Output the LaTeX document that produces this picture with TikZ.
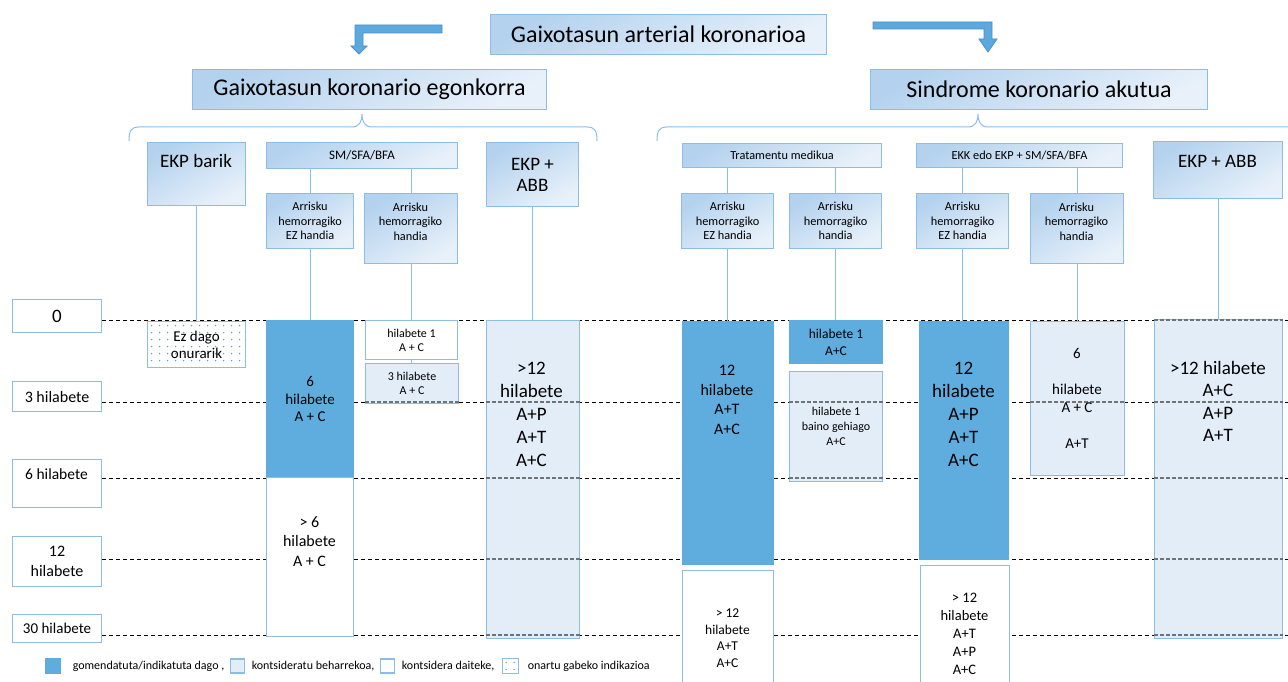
\documentclass[tikz,border=0pt]{standalone}
\usepackage{fontspec}
\setmainfont{Carlito}
\usetikzlibrary{positioning}

\definecolor{DarkBar}{HTML}{5FADDF}
\definecolor{LightBar}{HTML}{E2EDF8}
\definecolor{LineBlue}{HTML}{8CBDE6}
\definecolor{HeadTop}{HTML}{B4D2EE}
\definecolor{HeadBot}{HTML}{E8F1FA}
\definecolor{ArrowFill}{HTML}{5DA8DD}
\definecolor{ArrowEdge}{HTML}{4A8FCB}
\definecolor{DotBlue}{HTML}{6A9BC9}
\definecolor{SeenLine}{HTML}{6E7378}

\newcommand{\fsz}[2]{\fontsize{#1}{#2}\selectfont}

\tikzset{
  sz/.style 2 args={minimum width=#1, minimum height=#2},
  box/.style={anchor=north west, inner sep=1pt, align=center, line width=1.1pt},
  head/.style={box, draw=LineBlue, top color=HeadTop, bottom color=HeadBot, shading angle=30},
  tlabel/.style={box, draw=LineBlue, fill=white},
  darkbar/.style={box, draw=DarkBar, fill=DarkBar},
  whitebar/.style={box, draw=LineBlue, fill=white},
  lightbar/.style={box, draw=LineBlue, fill=LightBar},
  dotbox/.style={box, draw=LineBlue, fill=white, path picture={
      \foreach \i in {0,...,13}
        \foreach \j in {0,...,9}
          \fill[DotBlue] ([xshift={4pt+\i*8pt}, yshift={-4pt-\j*7pt}]path picture bounding box.north west) circle (0.8pt);
    }},
  txt/.style={inner sep=0pt, align=center},
  link/.style={draw=LineBlue, line width=1pt},
  timeline/.style={draw=black, line width=0.8pt, dash pattern=on 4pt off 3pt},
  seen/.style={draw=SeenLine, line width=1.2pt, dash pattern=on 4pt off 2pt},
}

\begin{document}
\begin{tikzpicture}[x=1pt, y=-1pt]

 \useasboundingbox (0,0) rectangle (1288,682);

 %%%%%%%%%% Time lines %%%%%%%%%%
 \coordinate (rgt) at (1288,0);
 \coordinate (d0) at (102,320);
 \coordinate (d3) at (102,402);
 \coordinate (d6) at (102,478);
 \coordinate (d12) at (102,559);
 \coordinate (d30) at (102,635);
 \foreach \nm in {d0,d3,d6,d12,d30}
 {
   \draw[timeline] (\nm) -- (\nm -| rgt);
 }

 %%%%%%%%%% Block arrows %%%%%%%%%%
 \draw[fill=ArrowFill, draw=ArrowEdge, line width=0.8pt] (442,25) -- (355,25) -- (355,46) -- (351,46) -- (359,54) -- (367,46) -- (363,46) -- (363,33) -- (442,33) -- cycle;
 \draw[fill=ArrowFill, draw=ArrowEdge, line width=0.8pt] (873,22) -- (992,22) -- (992,39) -- (997,39) -- (988,52) -- (979,39) -- (984,39) -- (984,29) -- (873,29) -- cycle;

 %%%%%%%%%% Top boxes %%%%%%%%%%
 \node[head, sz={336}{40}, font=\fsz{24}{29}] (root) at (490,14) {Gaixotasun arterial koronarioa};
 \node[head, sz={354}{40}, font=\fsz{24}{29}] (stable) at (192,69) {Gaixotasun koronario egonkorra};
 \node[head, sz={337}{40}, font=\fsz{24}{29}] (acute) at (870,69) {Sindrome koronario akutua};

 %%%%%%%%%% Braces %%%%%%%%%%
 \draw[link] (129,141) .. controls (129,131) and (131,127) .. (139,127) -- (352,127) .. controls (359,127) and (362,122) .. (362,114) .. controls (362,122) and (365,127) .. (372,127) -- (587,127) .. controls (595,127) and (597,131) .. (597,141);
 \draw[link] (657,141) .. controls (657,131) and (659,127) .. (667,127) -- (968,127) .. controls (975,127) and (978,122) .. (978,114) .. controls (978,122) and (981,127) .. (988,127) -- (1288,127);

 %%%%%%%%%% Stable: headers %%%%%%%%%%
 \node[head, sz={98}{63}] (nopci) at (147,142) {};
 \node[txt, font=\fsz{19}{23}] (nopciT) at (196,161) {EKP barik};
 \node[head, sz={191}{26}, font=\fsz{13}{16}] (smL) at (266,142) {SM/SFA/BFA};
 \node[head, sz={87}{55}, font=\fsz{12.3}{14.5}] (lowL) at (266,193) {Arrisku\\hemorragiko\\EZ handia};
 \node[head, sz={93}{70}] (highL) at (364,193) {};
 \node[txt, font=\fsz{12.3}{14.5}] (highLT) at (410.5,221.5) {Arrisku\\hemorragiko\\handia};
 \node[head, sz={92}{64}, font=\fsz{19}{21}] (cabgL) at (486,142) {EKP +\\ABB};

 %%%%%%%%%% Acute: headers %%%%%%%%%%
 \node[head, sz={199}{24}, font=\fsz{12.3}{15}] (medR) at (682,143) {Tratamentu medikua};
 \node[head, sz={92}{55}, font=\fsz{12.3}{14.5}] (lowR1) at (681,193) {Arrisku\\hemorragiko\\EZ handia};
 \node[head, sz={92}{55}, font=\fsz{12.3}{14.5}] (highR1) at (789,193) {Arrisku\\hemorragiko\\handia};
 \node[head, sz={206}{24}, font=\fsz{12.3}{15}] (pciR) at (916,143) {EKK edo EKP + SM/SFA/BFA};
 \node[head, sz={92}{55}, font=\fsz{12.3}{14.5}] (lowR2) at (916,193) {Arrisku\\hemorragiko\\EZ handia};
 \node[head, sz={93}{70}] (highR2) at (1030,193) {};
 \node[txt, font=\fsz{12.3}{14.5}] (highR2T) at (1076.5,221.5) {Arrisku\\hemorragiko\\handia};
 \node[head, sz={129}{57}] (cabgR) at (1153,141) {};
 \node[txt, font=\fsz{19}{23}] (cabgRT) at (1217.5,161) {EKP + ABB};

 %%%%%%%%%% Time labels %%%%%%%%%%
 \node[tlabel, sz={89}{33}, font=\fsz{19}{23}] (t0) at (12,299) {0};
 \node[tlabel, sz={89}{30}, font=\fsz{16}{19}] (t3) at (12,381) {3 hilabete};
 \node[tlabel, sz={89}{48}] (t6) at (12,459) {};
 \node[txt, font=\fsz{15.5}{19}] (t6T) at (56.5,474) {6 hilabete};
 \node[tlabel, sz={89}{50}, font=\fsz{16}{20}] (t12) at (12,536) {12\\hilabete};
 \node[tlabel, sz={89}{28}, font=\fsz{15}{18}] (t30) at (12,614) {30 hilabete};

 %%%%%%%%%% Stable: bars %%%%%%%%%%
 \node[dotbox, sz={98}{46}, font=\fsz{15}{17}] (nobenefit) at (147,321) {Ez dago\\onurarik};
 \node[darkbar, sz={87}{157}, font=\fsz{15}{17.5}] (dapt6) at (266,320) {6\\hilabete\\A + C};
 \node[whitebar, sz={87}{159}] (dapt6w) at (266,477) {};
 \node[whitebar, sz={92}{39}, font=\fsz{12}{14}] (m1L) at (365,320) {hilabete 1\\A + C};
 \node[lightbar, sz={93}{40}, font=\fsz{12}{14}] (m3L) at (365,363) {3 hilabete\\A + C};
 \node[lightbar, sz={93}{318}] (cabgLbar) at (486,320) {};

 %%%%%%%%%% Acute: bars %%%%%%%%%%
 \node[darkbar, sz={91}{243}] (med12) at (682,321) {};
 \node[whitebar, sz={91}{122}] (med12w) at (682,570) {};
 \node[darkbar, sz={93}{43}, font=\fsz{13.5}{17}] (m1R) at (789,320) {hilabete 1\\A+C};
 \node[lightbar, sz={93}{110}, font=\fsz{12}{15}] (m1Rb) at (789,371) {hilabete 1\\baino gehiago\\A+C};
 \node[darkbar, sz={89}{238}] (pci12) at (919,321) {};
 \node[whitebar, sz={89}{127}] (pci12w) at (920,565) {};
 \node[lightbar, sz={94}{154}] (pci6) at (1030,321) {};
 \node[lightbar, sz={128}{319}] (cabgRbar) at (1154,319) {};

 %%%%%%%%%% Time lines seen through the light bars %%%%%%%%%%
 \foreach \bx/\nm in {m3L/d3, cabgLbar/d3, cabgLbar/d6, cabgLbar/d12, cabgLbar/d30, m1Rb/d3, m1Rb/d6, pci6/d3, cabgRbar/d0, cabgRbar/d3, cabgRbar/d6, cabgRbar/d12, cabgRbar/d30}
 {
   \draw[seen] (\nm -| \bx.west) -- (\nm -| \bx.east);
 }

 %%%%%%%%%% Bar texts %%%%%%%%%%
 \node[txt, font=\fsz{16}{19.5}] (dapt6wT) at (309.5,541.5) {> 6\\hilabete\\A + C};
 \node[txt, font=\fsz{19}{23}] (cabgLbarT) at (531.5,414.5) {>12\\hilabete\\A+P\\A+T\\A+C};
 \node[txt, font=\fsz{16}{19.5}] (med12T) at (727,400) {12\\hilabete\\A+T\\A+C};
 \node[txt, font=\fsz{13.5}{16.5}] (med12wT) at (727.5,638) {> 12\\hilabete\\A+T\\A+C};
 \node[txt, font=\fsz{19}{23}] (pci12T) at (963.5,414) {12\\hilabete\\A+P\\A+T\\A+C};
 \node[txt, font=\fsz{14.5}{18}] (pci12wT) at (964.5,633.5) {> 12\\hilabete\\A+T\\A+P\\A+C};
 \node[txt, font=\fsz{15}{18}] (pci6T) at (1077,398) {6\\[18pt]hilabete\\A + C\\[18pt]A+T};
 \node[txt, font=\fsz{19}{22.5}] (cabgRbarT) at (1218,401.5) {>12 hilabete\\A+C\\A+P\\A+T};

 %%%%%%%%%% Connectors %%%%%%%%%%
 \draw[link] (nopci.south) -- (nopci.south |- nobenefit.north);
 \draw[link] (smL.south -| lowL.north) -- (lowL.north);
 \draw[link] (smL.south -| highL.north) -- (highL.north);
 \draw[link] (lowL.south) -- (lowL.south |- dapt6.north);
 \draw[link] (highL.south) -- (highL.south |- m1L.north);
 \draw[link] (m1L.south) -- (m1L.south |- m3L.north);
 \draw[link] (cabgL.south) -- (cabgL.south |- cabgLbar.north);
 \draw[link] (medR.south -| lowR1.north) -- (lowR1.north);
 \draw[link] (medR.south -| highR1.north) -- (highR1.north);
 \draw[link] (lowR1.south) -- (lowR1.south |- med12.north);
 \draw[link] (highR1.south) -- (highR1.south |- m1R.north);
 \draw[link] (pciR.south -| lowR2.north) -- (lowR2.north);
 \draw[link] (pciR.south -| highR2.north) -- (highR2.north);
 \draw[link] (lowR2.south) -- (lowR2.south |- pci12.north);
 \draw[link] (highR2.south) -- (highR2.south |- pci6.north);
 \draw[link] (cabgR.south) -- (cabgR.south |- cabgRbar.north);

 %%%%%%%%%% Legend %%%%%%%%%%
 \node[darkbar, sz={14}{14}, anchor=center] (kdark) at (53,666) {};
 \node[txt, font=\fsz{12}{14}, right=12pt of kdark] (kdarkT) {gomendatuta/indikatuta dago ,};
 \node[lightbar, sz={14}{14}, right=5pt of kdarkT] (klight) {};
 \node[txt, font=\fsz{12}{14}, right=7pt of klight] (klightT) {kontsideratu beharrekoa,};
 \node[whitebar, sz={14}{14}, right=5pt of klightT] (kwhite) {};
 \node[txt, font=\fsz{12}{14}, right=7pt of kwhite] (kwhiteT) {kontsidera daiteke,};
 \node[dotbox, sz={16}{15}, right=7pt of kwhiteT] (kdot) {};
 \node[txt, font=\fsz{12}{14}, right=9pt of kdot] (kdotT) {onartu gabeko indikazioa};

\end{tikzpicture}
\end{document}
